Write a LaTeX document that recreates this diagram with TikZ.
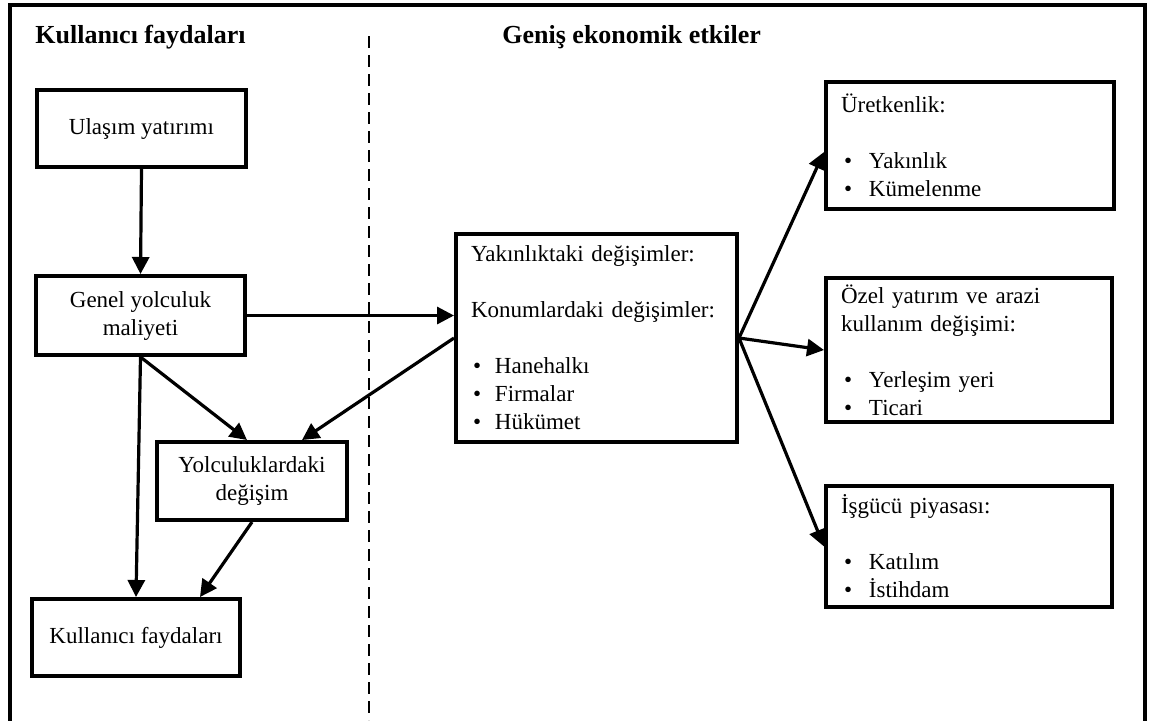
\documentclass[tikz,border=0pt]{standalone}
\usepackage{fontspec}
\setmainfont{Liberation Serif}
\usetikzlibrary{arrows.meta,calc}
\newcommand\itm{\hspace*{1pt}\makebox[11pt][l]{\textbullet}}
\newcommand\itmr{\hspace*{1.5pt}\makebox[12.5pt][l]{\textbullet}}
\begin{document}
\begin{tikzpicture}[x=0.5pt,y=-0.5pt,
  box/.style={draw,line width=2pt,inner sep=0pt,font=\fontsize{11.5}{14}\selectfont},
  cbox/.style={box,align=center},
  lbox/.style={box,align=left,inner xsep=7.5pt},
  arr/.style={line width=1.6pt,-{Triangle[length=8.5pt,width=8.5pt]}},
  title/.style={font=\fontsize{13}{15}\selectfont\bfseries,anchor=base west,inner sep=0pt}
]
\useasboundingbox (0,0) rectangle (1154,720);
% frame and divider
\draw[line width=1.8pt] (10,722) -- (10,5) -- (1145,5) -- (1145,722);
\draw[line width=1pt,dash pattern=on 6pt off 3.5pt] (369,36) -- (369,720);
% titles
\node[title] (t1) at (35,43) {Kullanıcı faydaları};
\node[title] (t2) at (502,43) {Geniş ekonomik etkiler};
% left boxes
\node[cbox,minimum width=104.5pt,minimum height=38.5pt] (ula) at (141.5,128.5) {Ulaşım yatırımı};
\node[cbox,minimum width=104.5pt,minimum height=39.5pt] (gen) at (140.5,315.5) {Genel yolculuk\\maliyeti};
\node[cbox,minimum width=95pt,minimum height=39pt] (yol) at (252,481) {Yolculuklardaki\\değişim};
\node[cbox,minimum width=104pt,minimum height=38.5pt] (kul) at (136,637.5) {Kullanıcı faydaları};
% middle box
\node[lbox,text width=125.5pt,minimum height=104pt] (mid) at (596.5,338)
  {Yakınlıktaki değişimler:\\[14pt]Konumlardaki değişimler:\\[14pt]\itm Hanehalkı\\\itm Firmalar\\\itm Hükümet};
% right boxes
\node[lbox,text width=129pt,minimum height=63.5pt] (ure) at (970,145.5)
  {Üretkenlik:\\[14pt]\itmr Yakınlık\\\itmr Kümelenme};
\node[lbox,text width=128pt,minimum height=72pt] (oze) at (969,350)
  {Özel yatırım ve arazi\\kullanım değişimi:\\[14pt]\itmr Yerleşim yeri\\\itmr Ticari};
\node[lbox,text width=128pt,minimum height=60.5pt] (isg) at (969,546.5)
  {İşgücü piyasası:\\[14pt]\itmr Katılım\\\itmr İstihdam};
% connectors
\draw[arr] (ula.south) -- (gen.north);
\draw[arr] (gen.east) -- (gen.east -| mid.west);
\draw[arr] (gen.south) -- (kul.north);
\draw[arr] (gen.south) -- ($(yol.north)+(-5,0)$);
\draw[arr] (mid.west) -- ($(yol.north)+(50,0)$);
\draw[arr] (yol.south) -- ($(kul.north)+(64,0)$);
\draw[arr] (mid.east) -- ($(ure.west)+(0,6.5)$);
\draw[arr] (mid.east) -- (oze.west);
\draw[arr] (mid.east) -- (isg.west);
\end{tikzpicture}
\end{document}
